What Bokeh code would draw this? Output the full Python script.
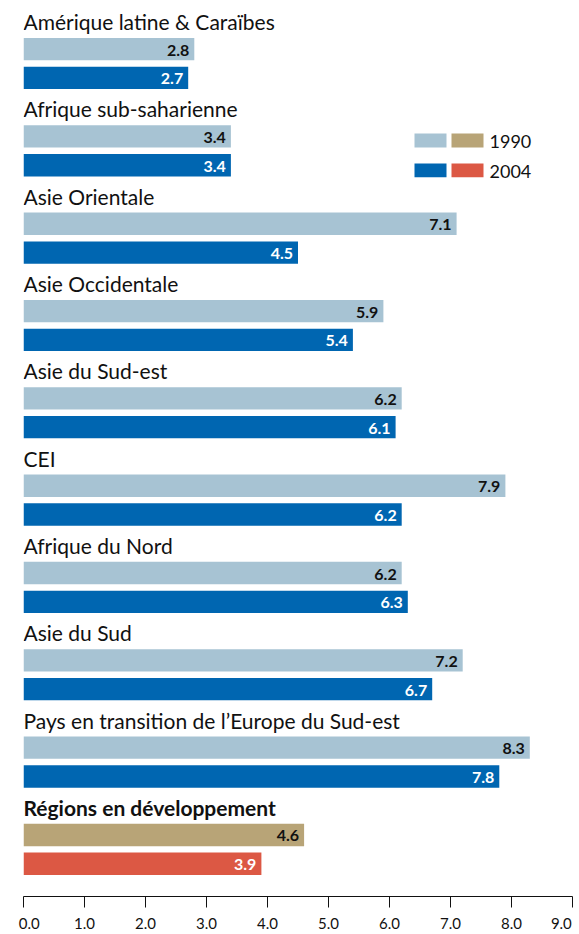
from bokeh.plotting import figure
from bokeh.models import Range1d, FixedTicker, NumeralTickFormatter, ColumnDataSource
from bokeh.core.properties import value
from bokeh.embed import file_html
from bokeh.resources import INLINE

# ---- data ----
regions = [
    "Amérique latine & Caraïbes",
    "Afrique sub-saharienne",
    "Asie Orientale",
    "Asie Occidentale",
    "Asie du Sud-est",
    "CEI",
    "Afrique du Nord",
    "Asie du Sud",
    "Pays en transition de l’Europe du Sud-est",
    "Régions en développement",
]
v1990 = [2.8, 3.4, 7.1, 5.9, 6.2, 7.9, 6.2, 7.2, 8.3, 4.6]
v2004 = [2.7, 3.4, 4.5, 5.4, 6.1, 6.2, 6.3, 6.7, 7.8, 3.9]
years = ["1990", "2004"]
x_ticks = [0, 1, 2, 3, 4, 5, 6, 7, 8, 9]
x_tick_labels = ["0.0", "1.0", "2.0", "3.0", "4.0", "5.0", "6.0", "7.0", "8.0", "9.0"]

# ---- style / layout ----
C1990 = "#A7C3D3"
C2004 = "#0066B1"
C1990_TOT = "#B8A477"
C2004_TOT = "#DC5844"
TXT = "#111111"
FONT = "Lato"

PITCH = 87.9        # px per group
TOP1 = 37.7         # px of first 1990 bar top
BAR_H = 22.5
GAP2 = 29.0         # offset of 2004 bar top from 1990 bar top
LABEL_UP = 16.5     # label (cap centre) above first bar top

n = len(regions)
W, H = 579, 934
FRAME_H = 902
PXU = 61.0  # px per unit on x
LEFT = 23

p = figure(width=W, height=H, x_range=Range1d(0, 9), y_range=Range1d(FRAME_H, 0),
           output_backend="svg", toolbar_location=None, y_axis_location=None,
           min_border_left=LEFT, min_border_right=W - LEFT - int(9 * PXU), min_border_top=0,
           min_border_bottom=H - FRAME_H)
p.outline_line_color = None
p.grid.visible = False
p.background_fill_color = "white"
p.border_fill_color = "white"

tops1 = [TOP1 + PITCH * i for i in range(n)]
y1 = [t + BAR_H / 2 for t in tops1]
y2 = [t + GAP2 + BAR_H / 2 for t in tops1]
ylab = [t - LABEL_UP for t in tops1]

col1 = [C1990] * (n - 1) + [C1990_TOT]
col2 = [C2004] * (n - 1) + [C2004_TOT]

src = ColumnDataSource(dict(region=regions, v1990=v1990, v2004=v2004, y1=y1, y2=y2, ylab=ylab,
                            col1=col1, col2=col2,
                            lab1=[f"{v:.1f}" for v in v1990], lab2=[f"{v:.1f}" for v in v2004],
                            style=["normal"] * (n - 1) + ["bold"]))

p.hbar(y="y1", left=0, right="v1990", height=BAR_H, fill_color="col1", line_color=None, source=src)
p.hbar(y="y2", left=0, right="v2004", height=BAR_H, fill_color="col2", line_color=None, source=src)

p.text(x=0, y="ylab", text="region", text_font=value(FONT), text_font_size="21px",
       text_font_style="style", text_color=TXT, text_baseline="middle", text_align="left", source=src)

p.text(x="v1990", y="y1", text="lab1", x_offset=-5, y_offset=1, text_font=value(FONT),
       text_font_size="16px", text_font_style="bold", text_color=TXT,
       text_align="right", text_baseline="middle", source=src)
p.text(x="v2004", y="y2", text="lab2", x_offset=-5, y_offset=1, text_font=value(FONT),
       text_font_size="16px", text_font_style="bold", text_color="white",
       text_align="right", text_baseline="middle", source=src)

# ---- legend (manual) ----
def ux(px):
    return (px - LEFT) / PXU

leg_rows_top = [134, 164]
leg_h = 14
sw_a = (414, 446)
sw_b = (451, 483)
leg_cols_a = [C1990, C2004]
leg_cols_b = [C1990_TOT, C2004_TOT]
p.quad(left=[ux(sw_a[0])] * 2, right=[ux(sw_a[1])] * 2,
       top=leg_rows_top, bottom=[t + leg_h for t in leg_rows_top],
       fill_color=leg_cols_a, line_color=None)
p.quad(left=[ux(sw_b[0])] * 2, right=[ux(sw_b[1])] * 2,
       top=leg_rows_top, bottom=[t + leg_h for t in leg_rows_top],
       fill_color=leg_cols_b, line_color=None)
p.text(x=[ux(489)] * 2, y=[t + leg_h / 2 + 1 for t in leg_rows_top], text=years,
       text_font=value(FONT), text_font_size="18px", text_color=TXT,
       text_align="left", text_baseline="middle")

# ---- axis ----
NB = "\u00a0"
ax = p.xaxis[0]
ax.ticker = FixedTicker(ticks=x_ticks)
ax.formatter = NumeralTickFormatter(format="0.0")
# keep the end labels inside the axis span, as in the original
ax.major_label_overrides = {x_ticks[0]: NB * 3 + x_tick_labels[0],
                            x_ticks[-1]: x_tick_labels[-1] + NB * 2}
ax.axis_line_color = "#111111"
ax.axis_line_width = 1
ax.major_tick_line_color = "#111111"
ax.major_tick_out = 11
ax.major_tick_in = 0
ax.minor_tick_line_color = None
ax.major_label_standoff = 6
ax.major_label_text_font = FONT
ax.major_label_text_font_size = "15px"
ax.major_label_text_color = TXT

open("out.html", "w").write(file_html(p, INLINE))
